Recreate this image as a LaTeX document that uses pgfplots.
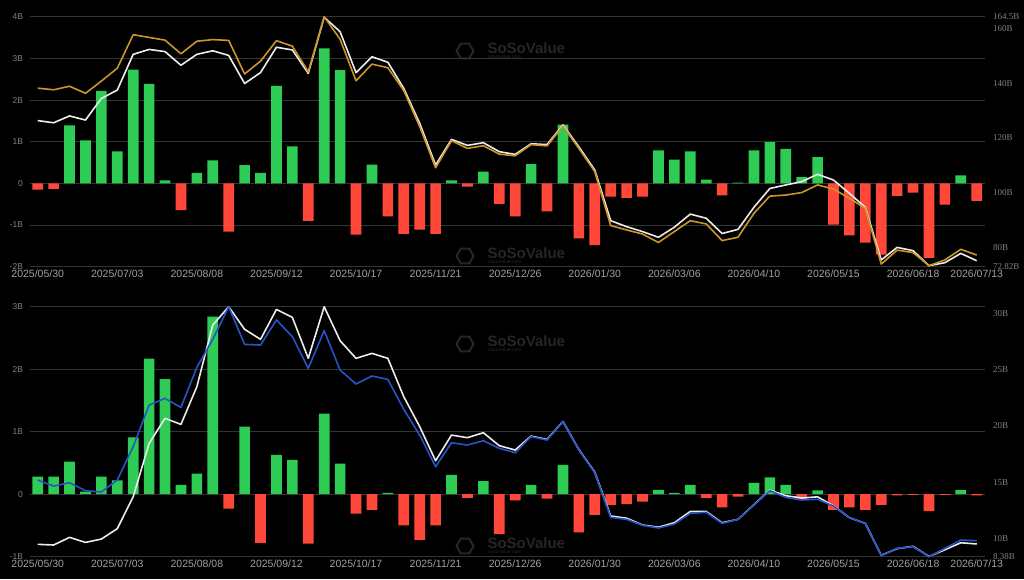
\documentclass[border=0pt]{standalone}
\usepackage{pgfplots}
\pgfplotsset{compat=1.18}
\usepackage{pgfplotstable}
\usetikzlibrary{shapes.geometric}
\usepackage{fontspec}
\setmainfont{Liberation Sans}
\newfontfamily\serifnum{Liberation Serif}
\definecolor{gridc}{RGB}{52,52,52}
\definecolor{barg}{RGB}{46,204,84}
\definecolor{barr}{RGB}{255,72,58}
\definecolor{goldl}{RGB}{205,148,38}
\definecolor{bluel}{RGB}{38,84,200}
\definecolor{whitel}{RGB}{236,236,236}
\definecolor{labx}{RGB}{160,160,160}
\definecolor{laby}{RGB}{130,130,130}
\definecolor{wm}{RGB}{38,38,38}

\pgfplotstableread{
i gold white
0 138.3 126.4
1 137.7 125.6
2 139.0 128.1
3 136.4 126.6
4 140.9 134.5
5 145.6 137.6
6 157.9 150.7
7 156.9 152.5
8 155.9 151.7
9 150.9 146.7
10 155.5 150.7
11 156.1 152.0
12 155.8 150.3
13 143.5 140.0
14 148.2 144.0
15 155.7 153.3
16 153.7 152.3
17 144.3 143.7
18 164.5 164.3
19 156.2 159.0
20 141.0 144.0
21 147.1 149.8
22 145.8 147.8
23 137.4 138.2
24 124.2 125.4
25 109.1 110.1
26 119.0 119.5
27 116.2 117.3
28 117.2 118.3
29 114.1 115.0
30 113.5 114.0
31 117.6 117.9
32 117.1 117.6
33 124.4 124.8
34 116.2 116.8
35 107.7 108.3
36 87.9 89.7
37 86.3 87.5
38 84.8 85.7
39 81.7 83.6
40 85.7 87.3
41 89.7 92.1
42 88.5 90.6
43 82.4 85.0
44 83.6 86.5
45 92.4 94.6
46 98.7 101.5
47 99.1 102.8
48 100.0 104.0
49 102.8 106.7
50 101.3 104.6
51 97.9 99.7
52 94.2 94.6
53 73.8 75.3
54 78.9 79.9
55 78.0 78.7
56 73.2 73.2
57 75.3 74.3
58 79.2 77.7
59 77.1 75.0
}\toplines

\pgfplotstableread{
i white blue
0 9.48 15.19
1 9.42 14.66
2 10.10 14.96
3 9.65 14.25
4 9.95 14.13
5 10.87 15.19
6 13.71 18.16
7 18.45 21.86
8 20.68 22.45
9 20.14 21.65
10 23.49 25.21
11 28.97 27.70
12 30.6 30.6
13 28.59 27.25
14 27.70 27.19
15 30.36 29.42
16 29.65 27.94
17 26.01 25.12
18 30.6 28.47
19 27.58 24.97
20 26.01 23.73
21 26.45 24.44
22 26.01 24.14
23 22.60 21.48
24 19.94 19.19
25 16.91 16.38
26 19.19 18.51
27 18.96 18.31
28 19.40 18.69
29 18.25 18.01
30 17.86 17.62
31 19.10 19.05
32 18.80 18.75
33 20.40 20.38
34 17.90 17.86
35 15.90 15.85
36 12.00 11.88
37 11.80 11.70
38 11.20 11.17
39 11.00 10.93
40 11.40 11.28
41 12.40 12.23
42 12.40 12.32
43 11.40 11.34
44 11.70 11.70
45 13.00 12.97
46 14.30 14.25
47 13.80 13.65
48 13.60 13.42
49 13.70 13.48
50 12.90 12.88
51 11.85 11.85
52 11.34 11.34
53 8.50 8.47
54 9.10 9.12
55 9.30 9.27
56 8.40 8.38
57 9.00 9.12
58 9.62 9.86
59 9.51 9.80
}\botlines

\pgfplotsset{
  basebar/.style={
    scale only axis, width=955pt, height=250pt,
    xmin=-0.484, xmax=59.52,
    axis line style={draw=none},
    major tick length=0pt,
    ymajorgrids, grid style={color=gridc, line width=0.7pt},
    xtick={0,5,10,15,20,25,30,35,40,45,50,55,59},
    xticklabels={2025/05/30,2025/07/03,2025/08/08,2025/09/12,2025/10/17,2025/11/21,2025/12/26,2026/01/30,2026/03/06,2026/04/10,2026/05/15,2026/06/18,2026/07/13},
    xticklabel style={font=\fontsize{10.5}{12}\selectfont, text=labx},
    yticklabel style={font=\fontsize{8.5}{10}\selectfont, text=laby, xshift=-3.5pt},
    ybar, bar width=0.67, bar shift=0pt,
  },
  baseline/.style={
    scale only axis, width=955pt, height=250pt,
    xmin=-0.484, xmax=59.52,
    axis y line*=right, axis x line=none,
    axis line style={draw=none},
    major tick length=0pt,
    clip=false,
    yticklabel style={font=\fontsize{9}{10}\serifnum, text=laby, xshift=4.5pt},
  },
}

\newcommand{\wmark}[1]{%
  \node[regular polygon, regular polygon sides=6, draw=wm, line width=2pt, minimum size=17pt, inner sep=0pt] at (465,#1) {};
  \node[text=wm, font=\bfseries\fontsize{15}{15}\selectfont, anchor=west] at (484,#1+3) {SoSoValue};
  \node[text=wm, font=\fontsize{5}{5}\selectfont, anchor=west, inner sep=1pt] at (487,#1-6) {sosovalue.com};
}

\begin{document}
\begin{tikzpicture}[x=1pt,y=1pt]
\fill[black] (0,0) rectangle (1024,579);

% watermarks
\wmark{528}
\wmark{323}
\wmark{235}
\wmark{33}

% ---------- top panel ----------
\begin{axis}[basebar, at={(30pt,312.3pt)}, anchor=south west,
  ymin=-2, ymax=4, ytick={-2,-1,0,1,2,3,4},
  yticklabels={-2B,-1B,0,1B,2B,3B,4B}]
\addplot[fill=barg, draw=none] coordinates {(2,1.39)(3,1.03)(4,2.22)(5,0.77)(6,2.73)(7,2.39)(8,0.07)(10,0.25)(11,0.55)(13,0.44)(14,0.25)(15,2.34)(16,0.89)(18,3.24)(19,2.72)(21,0.45)(26,0.07)(28,0.28)(31,0.46)(33,1.41)(39,0.79)(40,0.57)(41,0.77)(42,0.09)(44,0.02)(45,0.79)(46,0.99)(47,0.83)(48,0.15)(49,0.63)(58,0.19)};
\addplot[fill=barr, draw=none] coordinates {(0,-0.15)(1,-0.13)(9,-0.64)(12,-1.16)(17,-0.90)(20,-1.23)(22,-0.79)(23,-1.21)(24,-1.11)(25,-1.21)(27,-0.08)(29,-0.49)(30,-0.79)(32,-0.67)(34,-1.32)(35,-1.48)(36,-0.32)(37,-0.35)(38,-0.32)(43,-0.29)(50,-0.99)(51,-1.25)(52,-1.42)(53,-1.71)(54,-0.30)(55,-0.22)(56,-1.79)(57,-0.51)(59,-0.42)};
\end{axis}
\begin{axis}[baseline, at={(30pt,312.3pt)}, anchor=south west,
  ymin=72.82, ymax=164.5, ytick={72.82,80,100,120,140,160,164.5},
  yticklabels={72.82B,80B,100B,120B,140B,160B,164.5B}]
\addplot[whitel, line width=1.6pt, line join=round] table[x=i, y=white] {\toplines};
\addplot[goldl, line width=1.6pt, line join=round] table[x=i, y=gold] {\toplines};
\end{axis}

% ---------- bottom panel ----------
\begin{axis}[basebar, at={(30pt,22.3pt)}, anchor=south west,
  ymin=-1, ymax=3, ytick={-1,0,1,2,3},
  yticklabels={-1B,0,1B,2B,3B}]
\addplot[fill=barg, draw=none] coordinates {(0,0.28)(1,0.28)(2,0.52)(3,0.04)(4,0.28)(5,0.22)(6,0.91)(7,2.17)(8,1.84)(9,0.15)(10,0.33)(11,2.84)(13,1.08)(15,0.63)(16,0.55)(18,1.29)(19,0.49)(22,0.02)(26,0.31)(28,0.21)(31,0.15)(33,0.47)(39,0.07)(40,0.02)(41,0.15)(45,0.18)(46,0.27)(47,0.15)(49,0.06)(58,0.07)};
\addplot[fill=barr, draw=none] coordinates {(12,-0.23)(14,-0.78)(17,-0.79)(20,-0.31)(21,-0.25)(23,-0.50)(24,-0.73)(25,-0.50)(27,-0.06)(29,-0.64)(30,-0.10)(32,-0.07)(34,-0.61)(35,-0.33)(36,-0.17)(37,-0.16)(38,-0.12)(42,-0.06)(43,-0.21)(44,-0.04)(48,-0.08)(50,-0.25)(51,-0.21)(52,-0.25)(53,-0.17)(54,-0.02)(55,-0.01)(56,-0.27)(57,-0.01)(59,-0.02)};
\end{axis}
\begin{axis}[baseline, at={(30pt,22.3pt)}, anchor=south west,
  ymin=8.38, ymax=30.6, ytick={8.38,10,15,20,25,30},
  yticklabels={8.38B,10B,15B,20B,25B,30B}]
\addplot[whitel, line width=1.6pt, line join=round] table[x=i, y=white] {\botlines};
\addplot[bluel, line width=1.6pt, line join=round] table[x=i, y=blue] {\botlines};
\end{axis}
\end{tikzpicture}
\end{document}
